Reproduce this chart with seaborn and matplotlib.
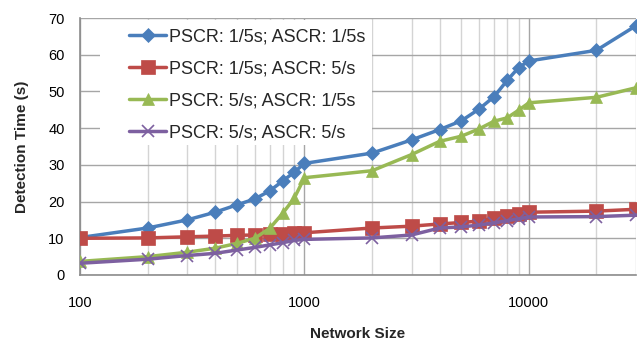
import numpy as np
import pandas as pd
import matplotlib
matplotlib.use("Agg")
import matplotlib.pyplot as plt
import seaborn as sns
from matplotlib.patches import Rectangle
from matplotlib.ticker import LogLocator, FixedLocator, NullFormatter

# data
network_size = [100, 200, 300, 400, 500, 600, 700, 800, 900, 1000,
                2000, 3000, 4000, 5000, 6000, 7000, 8000, 9000, 10000,
                20000, 30000]

fast_fast = [10.2, 12.8, 15.0, 17.1, 19.1, 20.7, 22.9, 25.6, 28.0, 30.4,
             33.2, 36.8, 39.6, 42.0, 45.2, 48.6, 53.0, 56.5, 58.3,
             61.2, 67.9]
fast_slow = [10.0, 10.1, 10.4, 10.6, 10.8, 10.9, 11.1, 11.3, 11.4, 11.5,
             12.8, 13.3, 13.9, 14.3, 14.7, 15.4, 16.0, 16.6, 17.1,
             17.4, 17.9]
slow_fast = [3.7, 5.0, 6.2, 7.3, 8.6, 10.0, 12.7, 16.8, 20.9, 26.5,
             28.4, 32.8, 36.4, 37.8, 39.8, 41.9, 42.8, 44.9, 46.9,
             48.4, 51.0]
slow_slow = [3.2, 4.3, 5.3, 5.9, 6.8, 7.5, 8.2, 8.8, 9.4, 9.7,
             10.1, 10.9, 12.8, 13.1, 13.6, 14.2, 14.8, 15.3, 15.8,
             15.9, 16.3]

labels = ["PSCR: 1/5s; ASCR: 1/5s", "PSCR: 1/5s; ASCR: 5/s",
          "PSCR: 5/s; ASCR: 1/5s", "PSCR: 5/s; ASCR: 5/s"]
colors = ["#4A7EBB", "#BE4B48", "#98B954", "#7D60A0"]
markers = ["D", "s", "^", "x"]
marker_sizes = [7.5, 10, 8.5, 8.5]

sns.set_theme(style="white")
plt.rcParams["font.family"] = ["Liberation Sans", "DejaVu Sans"]

W, H = 638, 340
fig = plt.figure(figsize=(W / 100, H / 100), dpi=100)
ax = fig.add_axes([80 / W, 1 - 275 / H, 556 / W, 257 / H])

series = [fast_fast, fast_slow, slow_fast, slow_slow]
for vals, lab, col, mk, ms in zip(series, labels, colors, markers, marker_sizes):
    df = pd.DataFrame({"size": network_size, "time": vals})
    sns.lineplot(data=df, x="size", y="time", ax=ax, color=col, label=lab,
                 linewidth=2.5, marker=mk, markersize=ms,
                 markeredgecolor=col, markeredgewidth=1.2 if mk == "x" else 0.5,
                 zorder=3)

ax.set_xscale("log")
ax.set_xlim(100, 30000)
ax.set_ylim(0, 70)
ax.set_yticks(np.arange(0, 71, 10))
ax.xaxis.set_major_locator(FixedLocator([100, 1000, 10000]))
ax.xaxis.set_minor_locator(LogLocator(base=10, subs=np.arange(2, 10)))
ax.xaxis.set_minor_formatter(NullFormatter())
ax.set_xticklabels(["100", "1000", "10000"])

# gridlines like the spreadsheet original
ax.grid(axis="y", which="major", color="#A6A6A6", linewidth=1.0, zorder=0)
ax.grid(axis="x", which="major", color="#A6A6A6", linewidth=1.0, zorder=0)
ax.grid(axis="x", which="minor", color="#D4D4D4", linewidth=1.0, zorder=0)
ax.set_axisbelow(True)

for side in ["top", "right"]:
    ax.spines[side].set_visible(False)
for side in ["left", "bottom"]:
    ax.spines[side].set_color("#8C8C8C")
    ax.spines[side].set_linewidth(1.2)

ax.tick_params(axis="both", which="major", direction="out", length=5,
               color="#8C8C8C", width=1.0, labelsize=10.5, labelcolor="black")
ax.tick_params(axis="y", pad=6)
ax.tick_params(axis="x", which="minor", length=0)
ax.tick_params(axis="x", pad=10)

ax.set_xlabel("Network Size", fontsize=11, fontweight="bold", labelpad=12)
ax.set_ylabel("Detection Time (s)", fontsize=11, fontweight="bold", labelpad=14)

# white legend area covering the gridlines
ax.add_patch(Rectangle((100 / W, 1 - 145 / H), 272 / W, 125 / H,
                       transform=fig.transFigure, facecolor="white",
                       edgecolor="none", zorder=1))

leg = ax.legend(loc="upper left", bbox_to_anchor=(129 / W, 1 - 28.5 / H),
                bbox_transform=fig.transFigure, fontsize=13,
                frameon=False, handlelength=2.05, handletextpad=0.17,
                labelspacing=0.83, borderpad=0.0, borderaxespad=0.0)
leg.set_zorder(5)

fig.savefig("out.png", dpi=100)
